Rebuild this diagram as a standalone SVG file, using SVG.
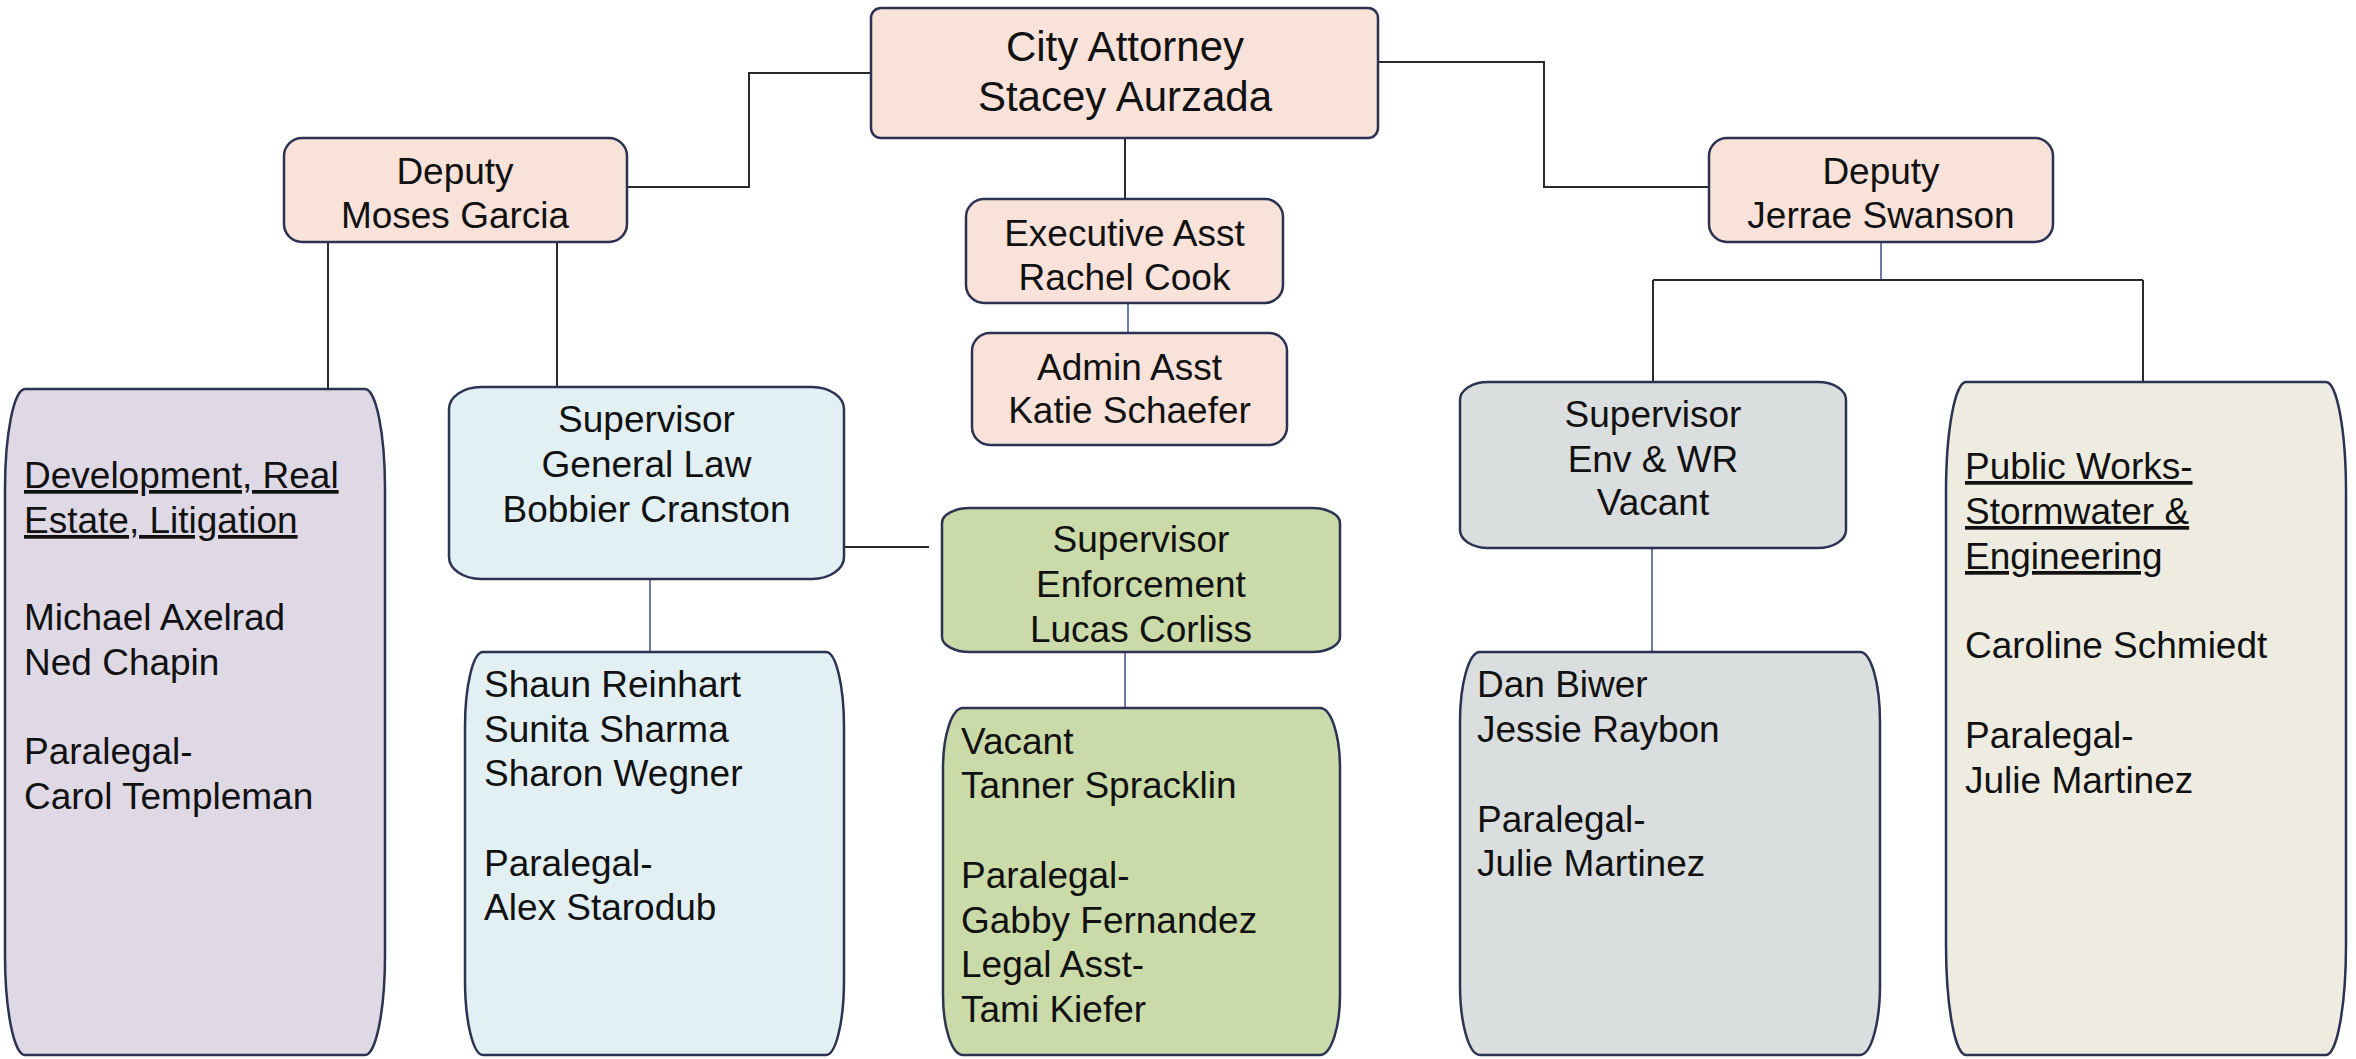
<svg xmlns="http://www.w3.org/2000/svg" width="2356" height="1059" viewBox="0 0 2356 1059">
<style>
.box{stroke:#2b3252;stroke-width:2.5}
.peach{fill:#f9e2d9}
.purple{fill:#dfd9e6}
.blue{fill:#e2f0f4}
.green{fill:#cadba9}
.gray{fill:#dadede}
.beige{fill:#eeece1}
text{font-family:"Liberation Sans",Arial,sans-serif;font-size:37px;fill:#111}
.c{text-anchor:middle}
.big{font-size:42px}
.u{text-decoration:underline}
.k{fill:none;stroke:#2a2a2a;stroke-width:2}
.b{fill:none;stroke:#3a4e8c;stroke-width:1.5}
</style>
<rect width="2356" height="1059" fill="#ffffff"/>
<g id="connectors">
<path class="k" d="M871,73 H749 V187 H627"/>
<path class="k" d="M1379,62 H1544 V187 H1709"/>
<path class="k" d="M1125,138 V199"/>
<path class="b" d="M1128,303 V333"/>
<path class="k" d="M328,242 V389"/>
<path class="k" d="M557,242 V387"/>
<path class="k" d="M844,547 H929"/>
<path class="b" d="M650,579 V652"/>
<path class="b" d="M1125,652 V708"/>
<path class="b" d="M1881,242 V280"/>
<path class="k" d="M1653,280 H2143 M1653,280 V382 M2143,280 V382"/>
<path class="b" d="M1652,548 V652"/>
</g>
<g id="city-attorney">
<rect class="box peach" x="871" y="8" width="507" height="130" rx="10"/>
<text class="c big" x="1125" y="61">City Attorney</text>
<text class="c big" x="1125" y="111">Stacey Aurzada</text>
</g>
<g id="deputy-moses">
<rect class="box peach" x="284" y="138" width="343" height="104" rx="18"/>
<text class="c" x="455" y="184">Deputy</text>
<text class="c" x="455" y="228">Moses Garcia</text>
</g>
<g id="deputy-jerrae">
<rect class="box peach" x="1709" y="138" width="344" height="104" rx="18"/>
<text class="c" x="1881" y="184">Deputy</text>
<text class="c" x="1881" y="228">Jerrae Swanson</text>
</g>
<g id="exec-asst">
<rect class="box peach" x="966" y="199" width="317" height="104" rx="18"/>
<text class="c" x="1124.5" y="246">Executive Asst</text>
<text class="c" x="1124.5" y="290">Rachel Cook</text>
</g>
<g id="admin-asst">
<rect class="box peach" x="972" y="333" width="315" height="112" rx="18"/>
<text class="c" x="1129.5" y="380">Admin Asst</text>
<text class="c" x="1129.5" y="423">Katie Schaefer</text>
</g>
<g id="development">
<rect class="box purple" x="5" y="389" width="380" height="666" rx="20" ry="100"/>
<text class="u" x="24" y="488">Development, Real</text>
<text class="u" x="24" y="533">Estate, Litigation</text>
<text x="24" y="630">Michael Axelrad</text>
<text x="24" y="675">Ned Chapin</text>
<text x="24" y="764">Paralegal-</text>
<text x="24" y="809">Carol Templeman</text>
</g>
<g id="sup-general-law">
<rect class="box blue" x="449" y="387" width="395" height="192" rx="32" ry="22"/>
<text class="c" x="646.5" y="432">Supervisor</text>
<text class="c" x="646.5" y="477">General Law</text>
<text class="c" x="646.5" y="522">Bobbier Cranston</text>
</g>
<g id="general-law-staff">
<rect class="box blue" x="465" y="652" width="379" height="403" rx="18" ry="75"/>
<text x="484" y="697">Shaun Reinhart</text>
<text x="484" y="742">Sunita Sharma</text>
<text x="484" y="786">Sharon Wegner</text>
<text x="484" y="876">Paralegal-</text>
<text x="484" y="920">Alex Starodub</text>
</g>
<g id="sup-enforcement">
<rect class="box green" x="942" y="508" width="398" height="144" rx="28" ry="15"/>
<text class="c" x="1141" y="552">Supervisor</text>
<text class="c" x="1141" y="597">Enforcement</text>
<text class="c" x="1141" y="642">Lucas Corliss</text>
</g>
<g id="enforcement-staff">
<rect class="box green" x="943" y="708" width="397" height="347" rx="20" ry="60"/>
<text x="961" y="754">Vacant</text>
<text x="961" y="798">Tanner Spracklin</text>
<text x="961" y="888">Paralegal-</text>
<text x="961" y="933">Gabby Fernandez</text>
<text x="961" y="977">Legal Asst-</text>
<text x="961" y="1022">Tami Kiefer</text>
</g>
<g id="sup-env">
<rect class="box gray" x="1460" y="382" width="386" height="166" rx="28" ry="18"/>
<text class="c" x="1653" y="427">Supervisor</text>
<text class="c" x="1653" y="472">Env &amp; WR</text>
<text class="c" x="1653" y="515">Vacant</text>
</g>
<g id="env-staff">
<rect class="box gray" x="1460" y="652" width="420" height="403" rx="20" ry="70"/>
<text x="1477" y="697">Dan Biwer</text>
<text x="1477" y="742">Jessie Raybon</text>
<text x="1477" y="832">Paralegal-</text>
<text x="1477" y="876">Julie Martinez</text>
</g>
<g id="public-works">
<rect class="box beige" x="1946" y="382" width="400" height="673" rx="20" ry="110"/>
<text class="u" x="1965" y="479">Public Works-</text>
<text class="u" x="1965" y="524">Stormwater &amp;</text>
<text class="u" x="1965" y="569">Engineering</text>
<text x="1965" y="658">Caroline Schmiedt</text>
<text x="1965" y="748">Paralegal-</text>
<text x="1965" y="793">Julie Martinez</text>
</g>
</svg>
